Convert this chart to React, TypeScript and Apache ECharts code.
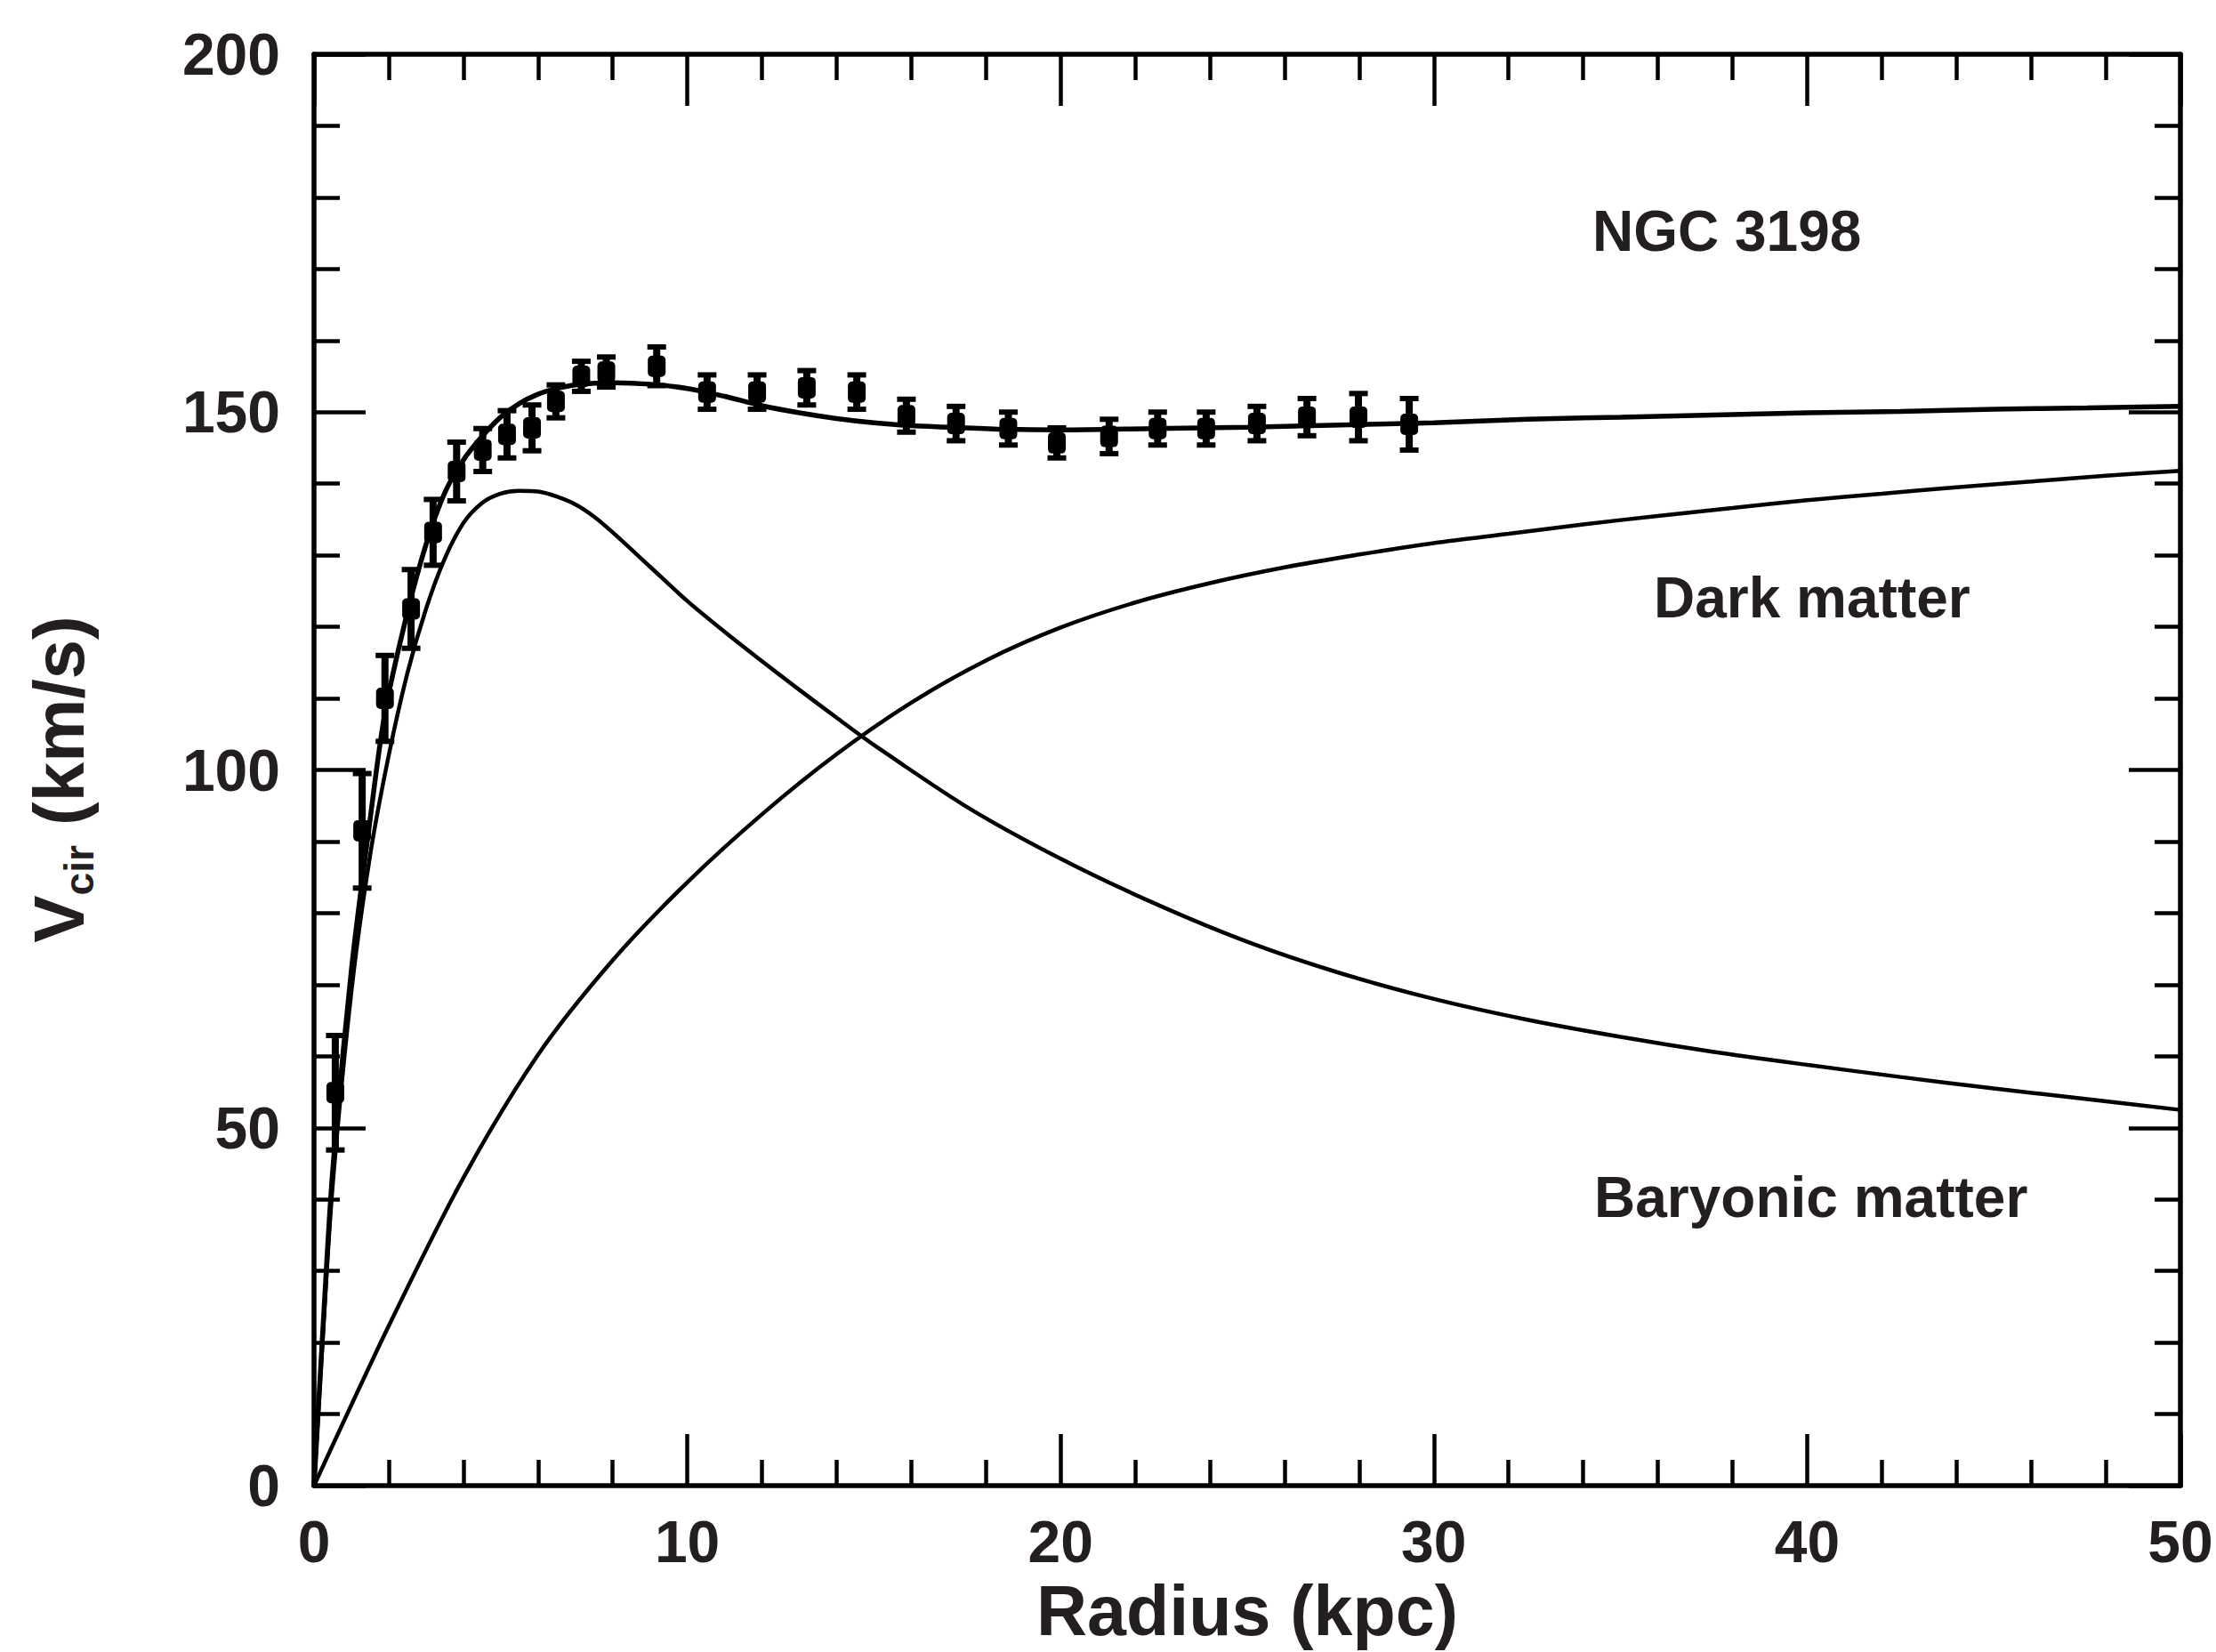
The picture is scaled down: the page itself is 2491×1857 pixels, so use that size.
import React, { useEffect, useRef } from "react";
import * as echarts from "echarts";

// Observed rotation curve of NGC 3198
const obsRadius = [0.57, 1.29, 1.9, 2.6, 3.19, 3.82, 4.52, 5.17, 5.84, 6.48, 7.16, 7.83, 9.18, 10.53, 11.87, 13.2, 14.54, 15.87, 17.2, 18.6, 19.9, 21.3, 22.6, 23.9, 25.26, 26.6, 27.98, 29.34];
const obsVel = [54.9, 91.5, 110, 122.5, 133.2, 141.7, 144.7, 146.9, 147.8, 151.5, 155, 155.6, 156.4, 152.8, 152.8, 153.4, 152.8, 149.5, 148.4, 147.7, 145.7, 146.6, 147.7, 147.7, 148.4, 149.3, 149.3, 148.3];
const obsErr = [8, 8, 6, 5.5, 4.6, 4.1, 3, 3.3, 3.2, 2.3, 2.1, 2.1, 2.7, 2.4, 2.4, 2.4, 2.4, 2.3, 2.4, 2.3, 2.1, 2.4, 2.3, 2.3, 2.4, 2.6, 3.3, 3.6];

// Total fit
const totalR = [0, 0.25, 0.5, 1, 1.5, 1.9, 2.5, 3, 3.5, 4, 4.5, 5, 5.5, 6, 6.5, 7, 8, 9, 10, 11, 12, 13, 14, 15, 16, 17, 18.5, 20, 22.5, 25, 27.5, 30, 32.5, 35, 37.5, 40, 42.5, 45, 47.5, 50];
const totalV = [0, 23, 44, 72, 93, 108, 122, 131.5, 138.7, 143.3, 146.6, 149.3, 151.2, 152.5, 153.3, 153.8, 154.1, 153.9, 153.3, 152.2, 150.9, 149.9, 149.1, 148.5, 148.1, 147.9, 147.6, 147.5, 147.7, 147.9, 148.2, 148.5, 149, 149.3, 149.6, 149.9, 150.1, 150.4, 150.6, 150.8];

// Baryonic (disk) component
const baryR = [0, 0.25, 0.5, 1, 1.5, 2, 2.5, 3, 3.5, 4, 4.5, 5, 5.5, 6, 6.5, 7, 7.5, 8, 9, 10, 11, 12, 13, 14, 15, 17.5, 20, 22.5, 25, 27.5, 30, 32.5, 35, 37.5, 40, 42.5, 45, 47.5, 50];
const baryV = [0, 22, 42, 69, 88, 102, 113.5, 122.5, 129.5, 134.5, 137.3, 138.6, 139, 138.9, 138.2, 137.1, 135.4, 133.2, 128.4, 123.6, 119.3, 115.2, 111.2, 107.3, 103.5, 94.8, 87.6, 81.4, 76, 71.6, 68, 65.1, 62.7, 60.6, 58.8, 57.1, 55.5, 54, 52.5];

// Dark matter halo component
const haloR = [0, 2, 4, 6, 8, 10, 12, 14, 16, 18, 20, 22, 24, 26, 28, 30, 32, 34, 36, 38, 40, 42, 44, 46, 48, 50];
const haloV = [0, 22.3, 43, 60.2, 73.4, 84.3, 93.8, 102.2, 109.4, 115.3, 119.9, 123.4, 126.1, 128.3, 130.1, 131.7, 133, 134.3, 135.5, 136.6, 137.7, 138.6, 139.5, 140.3, 141.1, 141.8];

const xTicks = { min: 0, max: 50, interval: 10 };
const yTicks = { min: 0, max: 200, interval: 50 };

const FONT = '"Liberation Sans", Arial, Helvetica, sans-serif';
const TEXT = "#231f20";

export default function App() {
  const ref = useRef<HTMLDivElement>(null);

  useEffect(() => {
    document.body.style.margin = "0";
    const chart = echarts.init(ref.current!, undefined, { renderer: "svg" });

    const axisLine = { show: true, onZero: false, lineStyle: { color: "#000", width: 5.5 } };
    const axisTick = { show: true, inside: true, length: 58, lineStyle: { color: "#000", width: 4.5 } };
    const minorTick = { show: true, splitNumber: 5, length: 29, lineStyle: { color: "#000", width: 4.5 } };
    const labelStyle = { fontSize: 66, fontWeight: "bold", fontFamily: FONT, color: TEXT };

    const lineSeries = (rs: number[], vs: number[], width: number) => ({
      type: "line",
      data: rs.map((r, i) => [r, vs[i]]),
      showSymbol: false,
      smooth: 0.3,
      lineStyle: { color: "#000", width },
      z: 3,
    });

    chart.setOption({
      animation: false,
      backgroundColor: "#fff",
      grid: { left: 353, right: 40, top: 61, bottom: 187 },
      xAxis: [
        {
          type: "value",
          ...xTicks,
          position: "bottom",
          axisLine,
          axisTick,
          minorTick,
          splitLine: { show: false },
          axisLabel: { ...labelStyle, margin: 30 },
          name: "Radius (kpc)",
          nameLocation: "middle",
          nameGap: 100,
          nameTextStyle: { fontSize: 79, fontWeight: "bold", fontFamily: FONT, color: TEXT, lineHeight: 80 },
        },
        {
          type: "value",
          ...xTicks,
          position: "top",
          axisLine,
          axisTick,
          minorTick,
          splitLine: { show: false },
          axisLabel: { show: false },
        },
      ],
      yAxis: [
        {
          type: "value",
          ...yTicks,
          position: "left",
          axisLine,
          axisTick,
          minorTick,
          splitLine: { show: false },
          axisLabel: { ...labelStyle, margin: 38 },
        },
        {
          type: "value",
          ...yTicks,
          position: "right",
          axisLine,
          axisTick,
          minorTick,
          splitLine: { show: false },
          axisLabel: { show: false },
        },
      ],
      series: [
        lineSeries(totalR, totalV, 5.5),
        lineSeries(baryR, baryV, 4.5),
        lineSeries(haloR, haloV, 4.5),
        {
          type: "custom",
          data: obsRadius.map((r, i) => [r, obsVel[i], obsErr[i]]),
          encode: { x: 0, y: 1 },
          z: 4,
          renderItem: (params: any, api: any) => {
            const r = api.value(0);
            const v = api.value(1);
            const e = api.value(2);
            const c = api.coord([r, v]);
            const top = api.coord([r, v + e]);
            const bot = api.coord([r, v - e]);
            const capW = 10.5;
            return {
              type: "group",
              children: [
                { type: "line", shape: { x1: c[0], y1: top[1], x2: c[0], y2: bot[1] }, style: { stroke: "#000", lineWidth: 8 } },
                { type: "line", shape: { x1: c[0] - capW, y1: top[1], x2: c[0] + capW, y2: top[1] }, style: { stroke: "#000", lineWidth: 6 } },
                { type: "line", shape: { x1: c[0] - capW, y1: bot[1], x2: c[0] + capW, y2: bot[1] }, style: { stroke: "#000", lineWidth: 6 } },
                { type: "rect", shape: { x: c[0] - 10, y: c[1] - 12, width: 20, height: 24, r: 5 }, style: { fill: "#000" } },
              ],
            };
          },
        },
      ],
      graphic: [
        {
          type: "text",
          x: 1790,
          y: 260,
          style: { text: "NGC 3198", font: `bold 64px ${FONT}`, fill: TEXT, align: "left", verticalAlign: "middle", textAlign: "left", textVerticalAlign: "middle" },
        },
        {
          type: "text",
          x: 1859,
          y: 672,
          style: { text: "Dark matter", font: `bold 64px ${FONT}`, fill: TEXT, align: "left", verticalAlign: "middle", textAlign: "left", textVerticalAlign: "middle" },
        },
        {
          type: "text",
          x: 1792,
          y: 1346,
          style: { text: "Baryonic matter", font: `bold 64px ${FONT}`, fill: TEXT, align: "left", verticalAlign: "middle", textAlign: "left", textVerticalAlign: "middle" },
        },
        {
          type: "text",
          x: 89,
          y: 876,
          rotation: Math.PI / 2,
          style: {
            text: "{v|V}{s|cir}{v| (km/s)}",
            fill: TEXT,
            align: "center",
            verticalAlign: "middle",
            textAlign: "center",
            textVerticalAlign: "middle",
            rich: {
              v: { fontSize: 80, fontWeight: "bold", fontFamily: FONT, fill: TEXT, color: TEXT, lineHeight: 80, verticalAlign: "top" },
              s: { fontSize: 46, fontWeight: "bold", fontFamily: FONT, fill: TEXT, color: TEXT, lineHeight: 125, verticalAlign: "middle" },
            },
          },
        },
      ],
    });

    return () => chart.dispose();
  }, []);

  return <div ref={ref} style={{ width: 2491, height: 1857 }} />;
}
